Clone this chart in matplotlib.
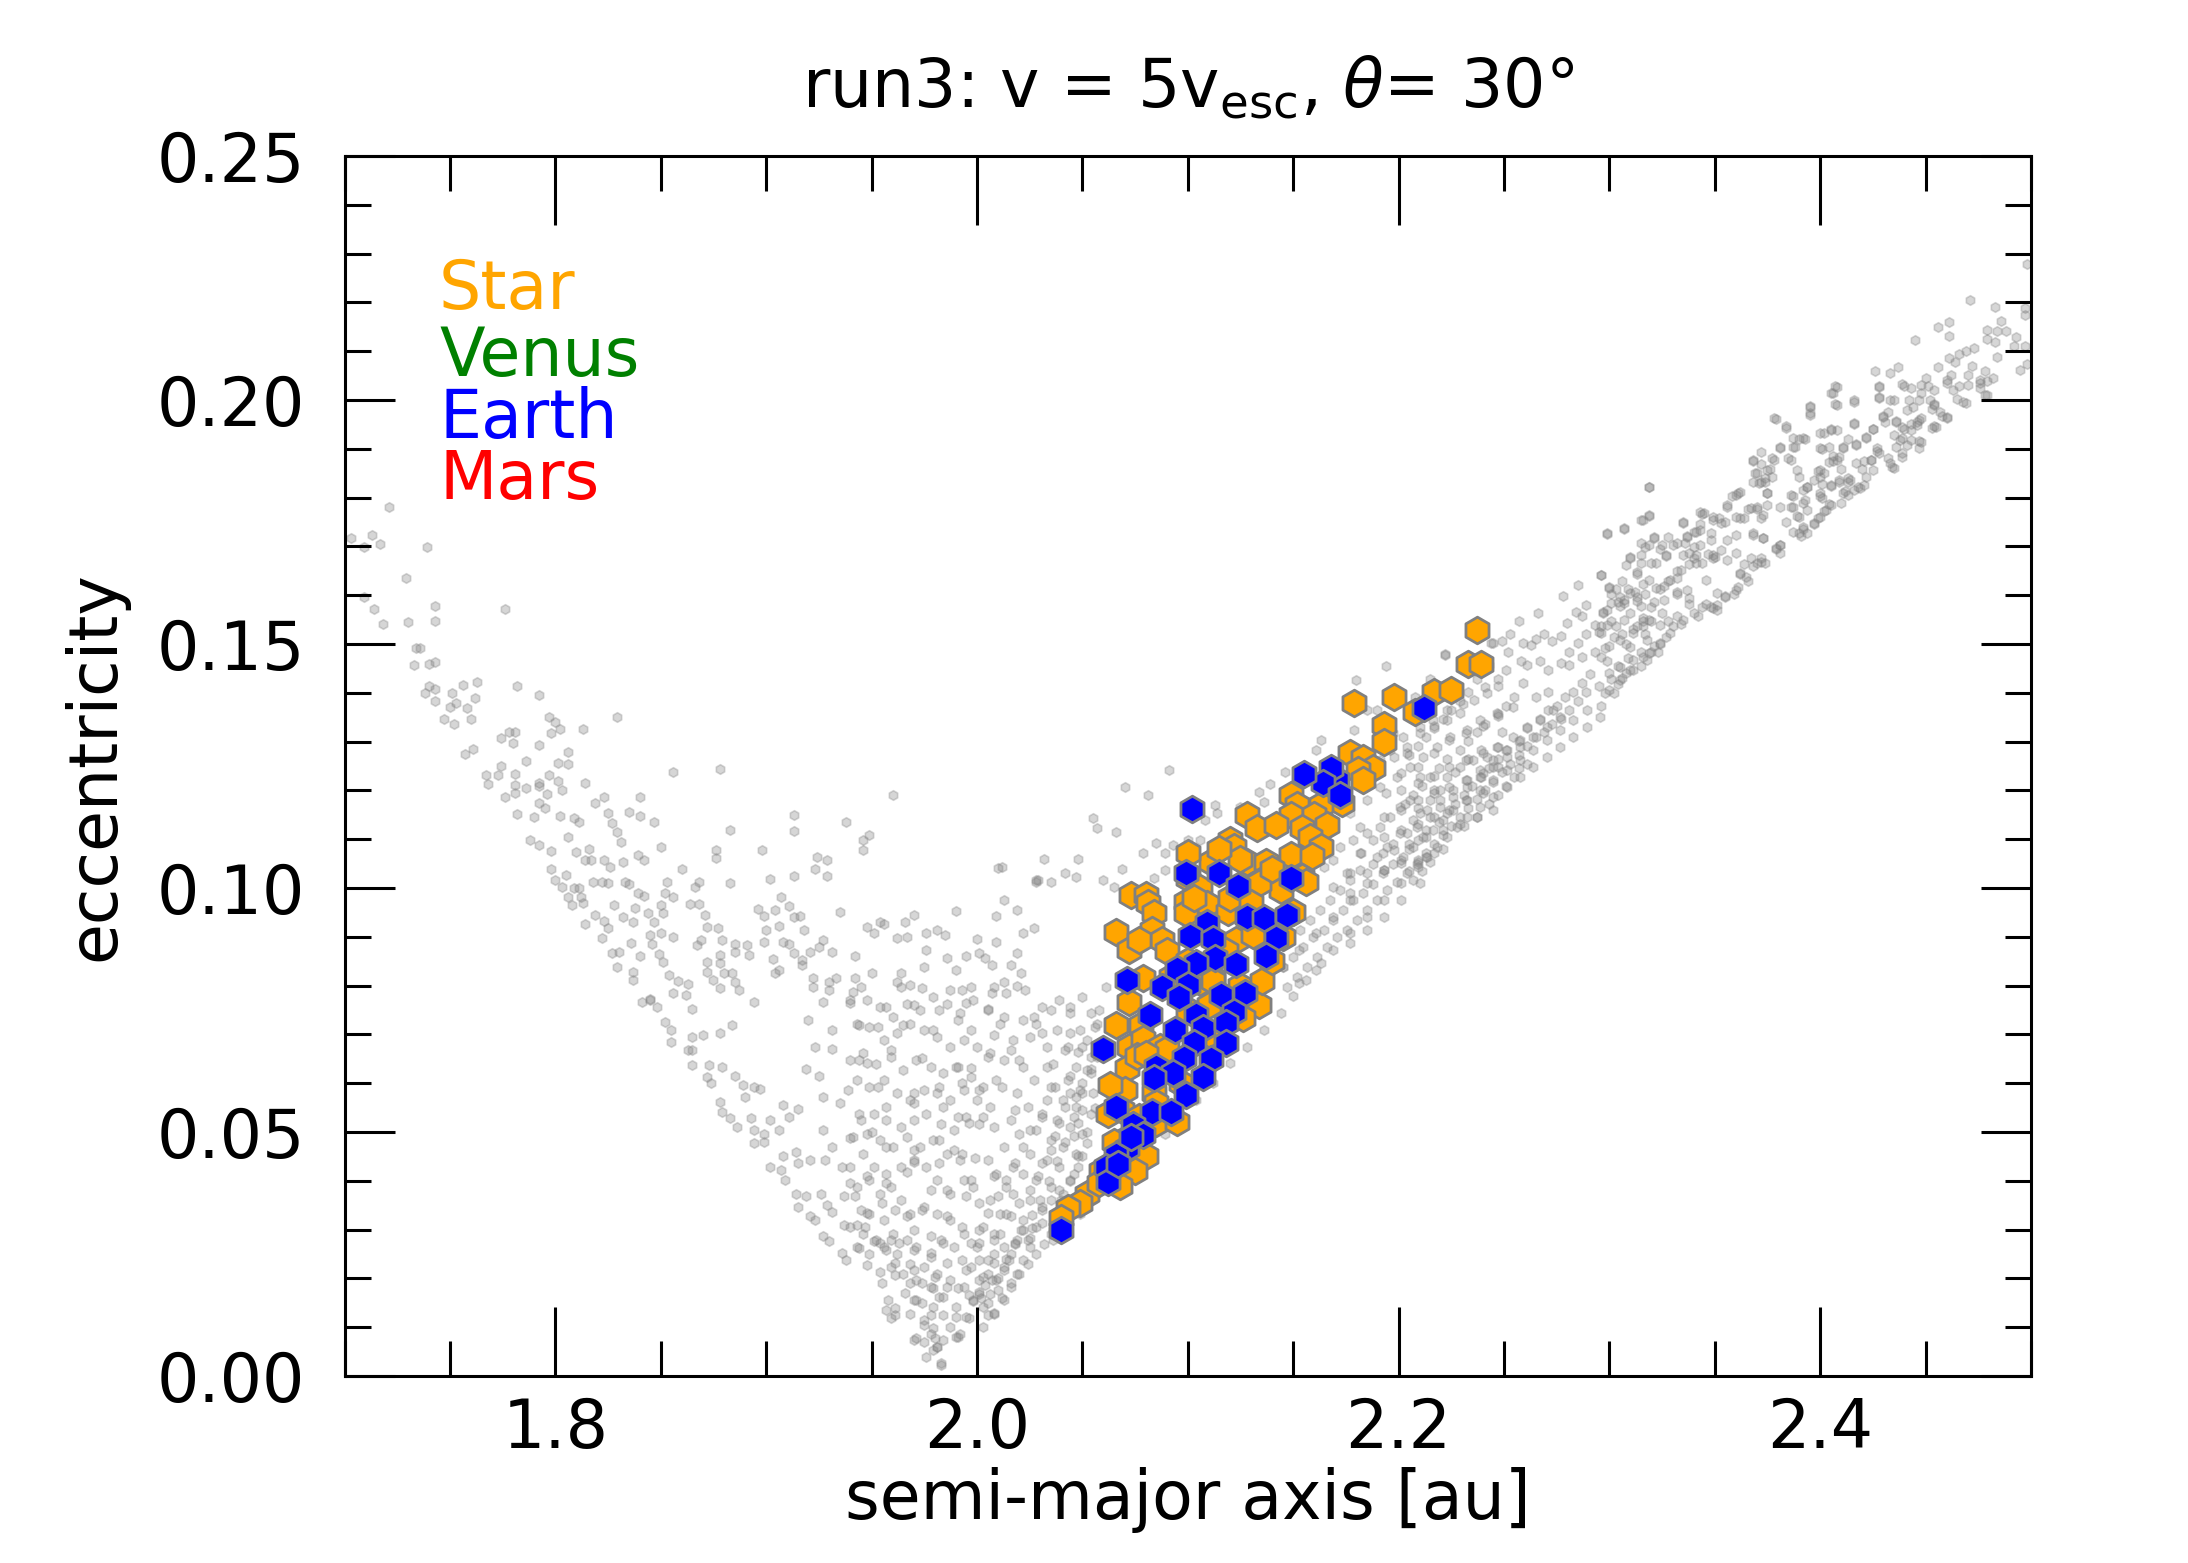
"""
Orbital elements of the fragments after the impact in run3.

Gray points are the whole debris population, the hexagons are the
fragments whose material comes from the star (orange) or Earth (blue).
"""

import numpy as np
import matplotlib
matplotlib.use("Agg")
import matplotlib.pyplot as plt
from matplotlib.ticker import MultipleLocator, FormatStrFormatter


OUT_PATH = "out.png"

# (semi-major axis [au], eccentricity)
gray_upper_left = [
    (1.721, 0.1781), (1.703, 0.1718), (1.713, 0.1723), (1.709, 0.1698), (1.717, 0.1705),
    (1.739, 0.1699), (1.729, 0.1635), (1.709, 0.1597), (1.714, 0.1571), (1.718, 0.1542),
    (1.730, 0.1546), (1.743, 0.1578), (1.743, 0.1548), (1.776, 0.1571), (1.734, 0.1492),
    (1.736, 0.1492), (1.733, 0.1458), (1.740, 0.1460), (1.743, 0.1464), (1.740, 0.1413),
    (1.743, 0.1407), (1.738, 0.1399), (1.751, 0.1400), (1.756, 0.1417), (1.763, 0.1423),
    (1.762, 0.1389), (1.753, 0.1380), (1.758, 0.1368), (1.750, 0.1371), (1.743, 0.1384),
    (1.747, 0.1346), (1.752, 0.1337), (1.760, 0.1346), (1.782, 0.1414), (1.792, 0.1396),
    (1.797, 0.1350), (1.800, 0.1341), (1.802, 0.1326), (1.798, 0.1318), (1.813, 0.1326),
    (1.829, 0.1351), (1.774, 0.1308), (1.778, 0.1320), (1.781, 0.1320), (1.780, 0.1298),
    (1.757, 0.1275), (1.761, 0.1284), (1.792, 0.1293), (1.806, 0.1279), (1.786, 0.1260),
    (1.774, 0.1250), (1.801, 0.1257), (1.806, 0.1254), (1.767, 0.1231), (1.773, 0.1231),
    (1.781, 0.1234), (1.768, 0.1214), (1.797, 0.1231), (1.801, 0.1220), (1.792, 0.1216),
    (1.814, 0.1216), (1.781, 0.1211), (1.786, 0.1204), (1.781, 0.1195), (1.792, 0.1209),
    (1.796, 0.1193), (1.803, 0.1201), (1.776, 0.1186), (1.856, 0.1238), (1.878, 0.1244),
    (1.792, 0.1174), (1.795, 0.1163), (1.782, 0.1152), (1.790, 0.1145), (1.802, 0.1148),
    (1.819, 0.1174), (1.823, 0.1186), (1.840, 0.1187), (1.825, 0.1153), (1.835, 0.1155),
    (1.840, 0.1148), (1.809, 0.1143), (1.811, 0.1136), (1.827, 0.1134), (1.847, 0.1136),
    (1.829, 0.1114), (1.831, 0.1094), (1.806, 0.1105), (1.788, 0.1098), (1.792, 0.1088),
    (1.798, 0.1075), (1.810, 0.1073), (1.816, 0.1081), (1.814, 0.1058), (1.817, 0.1058),
    (1.823, 0.1057), (1.826, 0.1044), (1.832, 0.1053), (1.839, 0.1068), (1.842, 0.1057),
    (1.850, 0.1085), (1.798, 0.1039), (1.805, 0.1027), (1.800, 0.1017), (1.803, 0.1002),
    (1.809, 0.1000), (1.811, 0.1000), (1.818, 0.1013), (1.822, 0.1013), (1.825, 0.1010),
    (1.833, 0.1013), (1.835, 0.1008), (1.806, 0.0982), (1.812, 0.0982), (1.808, 0.0965),
    (1.813, 0.0969), (1.814, 0.0926), (1.819, 0.0944), (1.823, 0.0933), (1.825, 0.0919),
    (1.822, 0.0897), (1.828, 0.0965), (1.832, 0.0941), (1.838, 0.0960), (1.844, 0.0948),
    (1.839, 0.0990), (1.842, 0.0984), (1.852, 0.0989), (1.850, 0.0965), (1.856, 0.0982),
    (1.851, 0.0948), (1.847, 0.0931), (1.837, 0.0931), (1.850, 0.0907), (1.856, 0.0900),
    (1.860, 0.1040), (1.853, 0.1013), (1.866, 0.1003), (1.868, 0.1013), (1.864, 0.0967),
    (1.868, 0.0967), (1.871, 0.0944), (1.872, 0.0920), (1.877, 0.0919), (1.869, 0.0893),
    (1.867, 0.0883), (1.879, 0.0893), (1.885, 0.0885), (1.891, 0.0883), (1.892, 0.0862),
    (1.885, 0.0869), (1.883, 0.1010), (1.876, 0.1077), (1.876, 0.1061), (1.883, 0.1119),
    (1.913, 0.1150), (1.913, 0.1117), (1.938, 0.1135), (1.946, 0.1098), (1.949, 0.1109),
    (1.946, 0.1077), (1.960, 0.1190), (1.898, 0.1077), (1.924, 0.1063), (1.929, 0.1058),
    (1.923, 0.1039), (1.929, 0.1025), (1.913, 0.1025), (1.902, 0.1019), (1.935, 0.0950),
    (1.990, 0.0952), (2.010, 0.1042), (2.013, 0.0975), (2.019, 0.0954), (2.009, 0.0943),
    (2.028, 0.1013), (1.896, 0.0958), (1.899, 0.0943), (1.904, 0.0955), (1.907, 0.0981),
    (1.911, 0.0963), (1.913, 0.0941), (1.916, 0.0943), (1.918, 0.0913), (1.927, 0.0893),
    (1.925, 0.0880), (1.921, 0.0869), (1.913, 0.0867), (1.911, 0.0886), (1.906, 0.0922),
    (1.900, 0.0914), (1.899, 0.0890), (1.908, 0.0890), (1.903, 0.0854), (1.904, 0.0825),
    (1.906, 0.0832), (1.917, 0.0852), (1.917, 0.0842), (1.922, 0.0815), (1.922, 0.0797),
    (1.931, 0.0869), (1.942, 0.0860), (1.942, 0.0816), (1.945, 0.0797), (1.950, 0.0825),
    (1.948, 0.0920), (1.951, 0.0907), (1.956, 0.0927), (1.954, 0.0931), (1.966, 0.0931),
    (1.970, 0.0944), (1.962, 0.0897), (1.967, 0.0899), (1.964, 0.0825), (1.962, 0.0808),
    (1.968, 0.0801), (1.975, 0.0839), (1.974, 0.0795), (1.976, 0.0907), (1.976, 0.0873),
    (1.981, 0.0914), (1.985, 0.0903), (1.986, 0.0856), (1.990, 0.0832), (1.993, 0.0791),
    (1.995, 0.0861), (2.001, 0.0866), (2.004, 0.0856), (2.007, 0.0842), (2.009, 0.0890),
    (2.016, 0.0842), (2.019, 0.0866), (2.021, 0.0825), (2.013, 0.0808), (2.022, 0.0908),
    (2.027, 0.0918), (2.029, 0.1017), (2.000, 0.0895), (2.007, 0.0784), (2.023, 0.0791),
    (2.019, 0.0799), (1.885, 0.0808), (1.887, 0.0791), (1.878, 0.0795), (1.884, 0.0826),
    (1.880, 0.0825), (1.875, 0.0811), (1.872, 0.0828), (1.858, 0.0810), (1.863, 0.0803),
    (1.856, 0.0784), (1.862, 0.0780), (1.845, 0.0773), (1.837, 0.0811), (1.837, 0.0828),
    (1.840, 0.0860), (1.851, 0.0848), (1.854, 0.0821), (1.849, 0.0865), (1.846, 0.0886),
    (1.845, 0.0903), (1.827, 0.0867), (1.830, 0.0869), (1.829, 0.0838), (1.836, 0.0887),
    (1.878, 0.0846), (1.878, 0.0862), (1.872, 0.0849), (1.933, 0.0816), (1.930, 0.0808),
    (1.930, 0.0791), (1.941, 0.0787),
]

gray_lower_mid = [
    (1.841, 0.0767), (1.845, 0.0771), (1.848, 0.0757), (1.865, 0.0753), (1.852, 0.0726),
    (1.855, 0.0709), (1.855, 0.0685), (1.865, 0.0695), (1.870, 0.0699), (1.878, 0.0702),
    (1.884, 0.0719), (1.894, 0.0767), (1.863, 0.0669), (1.865, 0.0669), (1.865, 0.0637),
    (1.873, 0.0637), (1.879, 0.0634), (1.885, 0.0614), (1.872, 0.0612), (1.874, 0.0601),
    (1.889, 0.0596), (1.894, 0.0593), (1.897, 0.0589), (1.890, 0.0572), (1.878, 0.0562),
    (1.879, 0.0542), (1.883, 0.0528), (1.893, 0.0528), (1.902, 0.0524), (1.894, 0.0504),
    (1.899, 0.0497), (1.886, 0.0511), (1.894, 0.0477), (1.899, 0.0480), (1.906, 0.0504),
    (1.908, 0.0555), (1.911, 0.0531), (1.915, 0.0548), (1.908, 0.0450), (1.914, 0.0460),
    (1.902, 0.0429), (1.907, 0.0422), (1.915, 0.0436), (1.909, 0.0402), (1.921, 0.0443),
    (1.928, 0.0443), (1.914, 0.0374), (1.919, 0.0368), (1.926, 0.0374), (1.929, 0.0350),
    (1.915, 0.0347), (1.921, 0.0327), (1.923, 0.0320), (1.931, 0.0337), (1.937, 0.0368),
    (1.942, 0.0368), (1.927, 0.0286), (1.930, 0.0276), (1.937, 0.0309), (1.943, 0.0309),
    (1.947, 0.0306), (1.936, 0.0252), (1.938, 0.0238), (1.944, 0.0262), (1.948, 0.0228),
    (1.954, 0.0214), (1.951, 0.0276), (1.954, 0.0272), (1.957, 0.0258), (1.959, 0.0279),
    (1.961, 0.0231), (1.961, 0.0207), (1.955, 0.0190), (1.958, 0.0156), (1.957, 0.0135),
    (1.961, 0.0139), (1.961, 0.0125), (1.959, 0.0118), (1.966, 0.0170), (1.970, 0.0156),
    (1.968, 0.0190), (1.974, 0.0190), (1.971, 0.0077), (1.975, 0.0070), (1.975, 0.0105),
    (1.979, 0.0098), (1.980, 0.0077), (1.981, 0.0060), (1.979, 0.0053), (1.983, 0.0023),
    (1.991, 0.0081), (1.990, 0.0122), (1.984, 0.0125), (1.978, 0.0125), (1.974, 0.0149),
    (1.982, 0.0163), (1.986, 0.0183), (1.979, 0.0180), (1.991, 0.0180), (1.996, 0.0118),
    (1.998, 0.0153), (1.996, 0.0166), (2.001, 0.0173), (2.002, 0.0160), (2.005, 0.0149),
    (2.005, 0.0125), (2.004, 0.0187), (2.007, 0.0197), (2.010, 0.0177), (2.008, 0.0231),
    (2.013, 0.0217), (2.015, 0.0238), (2.013, 0.0265), (2.018, 0.0272), (2.024, 0.0279),
    (2.021, 0.0299), (2.026, 0.0303), (2.025, 0.0282), (2.031, 0.0313), (2.031, 0.0340),
    (2.035, 0.0361), (2.039, 0.0381), (2.044, 0.0402), (2.048, 0.0429), (2.050, 0.0450),
    (2.052, 0.0477), (2.046, 0.0491), (2.048, 0.0518), (2.050, 0.0545), (2.047, 0.0572),
    (2.050, 0.0600), (2.052, 0.0627), (2.054, 0.0654), (2.048, 0.0665), (2.052, 0.0688),
    (2.056, 0.0716), (2.058, 0.0750), (2.061, 0.0798), (2.044, 0.0702), (2.042, 0.0668),
    (2.044, 0.0614), (2.044, 0.0580), (2.042, 0.0552), (2.039, 0.0518), (2.037, 0.0491),
    (2.035, 0.0463), (2.031, 0.0436), (2.029, 0.0409), (2.025, 0.0381), (2.020, 0.0354),
    (2.016, 0.0327), (2.037, 0.0593), (2.033, 0.0566), (2.031, 0.0531), (2.025, 0.0504),
    (2.022, 0.0470), (2.018, 0.0436), (2.014, 0.0402), (2.010, 0.0368), (2.005, 0.0334),
    (2.001, 0.0299), (1.997, 0.0272), (1.993, 0.0238), (2.033, 0.0634), (2.031, 0.0702),
    (2.027, 0.0736), (2.044, 0.0757), (2.035, 0.0750), (1.927, 0.0767), (1.940, 0.0764),
    (1.957, 0.0757), (1.970, 0.0760), (1.982, 0.0750), (1.995, 0.0764), (2.005, 0.0753),
    (2.013, 0.0736), (1.920, 0.0729), (1.931, 0.0709), (1.944, 0.0719), (1.953, 0.0716),
    (1.965, 0.0719), (1.979, 0.0709), (1.991, 0.0730), (1.997, 0.0709), (2.008, 0.0699),
    (1.923, 0.0675), (1.931, 0.0671), (1.944, 0.0648), (1.948, 0.0641), (1.959, 0.0668),
    (1.974, 0.0651), (1.991, 0.0634), (1.997, 0.0631), (2.005, 0.0654), (2.016, 0.0668),
    (2.020, 0.0648), (1.919, 0.0630), (1.925, 0.0614), (1.939, 0.0586), (1.953, 0.0593),
    (1.970, 0.0579), (1.982, 0.0593), (1.993, 0.0600), (2.001, 0.0586), (2.012, 0.0593),
    (1.927, 0.0572), (1.935, 0.0559), (1.944, 0.0538), (1.957, 0.0552), (1.970, 0.0559),
    (1.984, 0.0552), (1.991, 0.0531), (1.996, 0.0518), (2.003, 0.0531), (2.008, 0.0511),
    (2.018, 0.0545), (1.927, 0.0504), (1.940, 0.0487), (1.950, 0.0500), (1.957, 0.0470),
    (1.970, 0.0463), (1.982, 0.0484), (1.989, 0.0463), (1.993, 0.0456), (1.999, 0.0446),
    (2.005, 0.0443), (2.008, 0.0409), (1.997, 0.0402), (1.982, 0.0436), (1.970, 0.0439),
    (1.967, 0.0419), (1.978, 0.0381), (1.986, 0.0381), (1.995, 0.0368), (2.001, 0.0354),
    (1.955, 0.0354), (1.961, 0.0340), (1.967, 0.0327), (1.974, 0.0340), (1.986, 0.0327),
    (1.993, 0.0306), (1.970, 0.0299), (1.978, 0.0286), (1.984, 0.0272), (2.001, 0.0272),
    (2.008, 0.0292), (1.963, 0.0272), (1.970, 0.0258), (1.978, 0.0252), (1.986, 0.0231),
    (1.995, 0.0217), (2.001, 0.0238), (2.003, 0.0204), (1.970, 0.0217), (1.980, 0.0204),
    (1.948, 0.0334), (1.940, 0.0395), (1.948, 0.0409), (1.957, 0.0395), (1.936, 0.0429),
    (1.931, 0.0470),
    # lower edge of the right arm below the hexagons
    (2.003, 0.0100), (2.008, 0.0130), (2.012, 0.0160), (2.016, 0.0190), (2.020, 0.0210),
    (2.024, 0.0230), (2.028, 0.0250), (2.032, 0.0270), (2.036, 0.0300), (2.010, 0.0200),
    (2.014, 0.0240), (2.018, 0.0270), (2.022, 0.0300), (2.026, 0.0330), (2.030, 0.0360),
    (2.034, 0.0400), (2.038, 0.0440), (2.042, 0.0480), (2.046, 0.0530), (2.050, 0.0580),
    (2.054, 0.0630), (2.040, 0.0360), (2.044, 0.0400), (2.048, 0.0450), (2.052, 0.0500),
    (2.056, 0.0550),
]

# bottom of the V and the foot of the right arm
gray_v_bottom = [
    (2.050, 0.0777), (2.054, 0.0743), (2.049, 0.0709), (2.057, 0.0722), (2.050, 0.0674),
    (2.057, 0.0654), (2.047, 0.0633), (2.054, 0.0620), (2.043, 0.0606), (2.049, 0.0586),
    (2.055, 0.0579), (2.041, 0.0565), (2.047, 0.0551), (2.054, 0.0538), (2.038, 0.0524),
    (2.044, 0.0510), (2.050, 0.0497), (2.035, 0.0483), (2.041, 0.0470), (2.047, 0.0456),
    (2.033, 0.0442), (2.039, 0.0429), (2.046, 0.0415), (2.028, 0.0401), (2.035, 0.0387),
    (2.041, 0.0374), (2.025, 0.0360), (2.031, 0.0347), (2.038, 0.0333), (2.022, 0.0319),
    (2.028, 0.0306), (2.035, 0.0292), (2.019, 0.0278), (2.025, 0.0265), (2.016, 0.0251),
    (2.022, 0.0237), (2.013, 0.0224), (2.019, 0.0210), (2.009, 0.0196), (2.016, 0.0183),
    (2.006, 0.0169), (2.013, 0.0155), (2.003, 0.0142), (2.008, 0.0128), (2.043, 0.0674),
    (2.036, 0.0640), (2.035, 0.0592), (2.031, 0.0538), (2.028, 0.0504), (2.025, 0.0456),
    (2.022, 0.0415), (2.017, 0.0374), (2.014, 0.0333), (2.011, 0.0292), (2.008, 0.0251),
    (2.005, 0.0210), (2.001, 0.0169), (2.044, 0.0743), (2.038, 0.0709), (2.039, 0.0770),
    (2.031, 0.0756), (2.028, 0.0722), (2.025, 0.0695), (2.033, 0.0674), (2.022, 0.0633),
    (2.027, 0.0606), (2.019, 0.0579), (2.024, 0.0551), (2.016, 0.0524), (2.020, 0.0497),
    (2.013, 0.0470), (2.017, 0.0429), (2.009, 0.0415), (2.014, 0.0387), (2.006, 0.0360),
    (2.011, 0.0333), (2.003, 0.0306), (2.008, 0.0278), (2.000, 0.0265), (2.005, 0.0237),
    (1.997, 0.0224), (2.001, 0.0196), (1.994, 0.0183), (1.998, 0.0155), (1.990, 0.0142),
    (1.995, 0.0121), (1.987, 0.0101), (1.992, 0.0087), (1.984, 0.0073), (1.981, 0.0060),
    (1.978, 0.0087), (1.975, 0.0114), (1.979, 0.0142), (1.971, 0.0155), (1.968, 0.0128),
    (1.970, 0.0073), (1.976, 0.0039), (1.983, 0.0026), (1.990, 0.0080), (1.987, 0.0196),
    (1.984, 0.0162), (1.981, 0.0210), (1.978, 0.0183), (1.975, 0.0224), (1.971, 0.0196),
    (1.968, 0.0230), (1.965, 0.0210), (1.962, 0.0251), (1.959, 0.0224), (1.956, 0.0265),
    (1.952, 0.0278), (1.949, 0.0251), (1.946, 0.0292), (1.943, 0.0265), (1.940, 0.0306),
    (1.945, 0.0340), (1.949, 0.0333), (1.956, 0.0319), (1.960, 0.0292), (1.967, 0.0278),
    (1.971, 0.0265), (1.978, 0.0244), (1.983, 0.0278), (1.989, 0.0265), (1.994, 0.0292),
    (1.987, 0.0319), (1.981, 0.0333), (1.975, 0.0347), (1.968, 0.0333), (1.964, 0.0360),
    (1.959, 0.0387), (1.954, 0.0374), (1.949, 0.0401), (1.943, 0.0387), (1.940, 0.0429),
    (1.946, 0.0456), (1.951, 0.0429), (1.957, 0.0415), (1.964, 0.0429), (1.970, 0.0442),
    (1.976, 0.0429), (1.981, 0.0401), (1.987, 0.0374), (1.994, 0.0401), (1.998, 0.0387),
    (1.992, 0.0442), (1.986, 0.0456), (1.979, 0.0483), (1.973, 0.0470), (1.967, 0.0490),
    (1.960, 0.0470), (1.954, 0.0483), (1.948, 0.0497), (1.941, 0.0490), (1.945, 0.0524),
    (1.951, 0.0538), (1.957, 0.0524), (1.964, 0.0510), (1.970, 0.0524), (1.976, 0.0538),
    (1.983, 0.0517), (1.989, 0.0504), (1.995, 0.0531), (2.001, 0.0517), (2.006, 0.0551),
    (2.000, 0.0565), (1.994, 0.0586), (1.987, 0.0565), (1.981, 0.0579), (1.975, 0.0586),
    (1.968, 0.0565), (1.962, 0.0579), (1.956, 0.0606), (1.949, 0.0592), (1.943, 0.0606),
    (1.940, 0.0647), (1.946, 0.0661), (1.952, 0.0640), (1.959, 0.0654), (1.965, 0.0627),
    (1.971, 0.0647), (1.978, 0.0633), (1.984, 0.0620), (1.990, 0.0633), (1.997, 0.0613),
    (2.003, 0.0592), (2.009, 0.0606), (2.013, 0.0647), (2.006, 0.0661), (2.000, 0.0674),
    (1.994, 0.0688), (1.987, 0.0674), (1.981, 0.0695), (1.975, 0.0709), (1.968, 0.0722),
    (1.962, 0.0702), (1.956, 0.0688), (1.949, 0.0715), (1.943, 0.0722), (1.940, 0.0770),
    (1.948, 0.0770), (1.954, 0.0756), (1.960, 0.0736), (1.967, 0.0763), (1.973, 0.0750),
    (1.979, 0.0777), (1.986, 0.0763), (1.992, 0.0743), (1.998, 0.0770), (2.005, 0.0750),
    (2.011, 0.0722), (2.017, 0.0688), (2.022, 0.0729), (2.014, 0.0784), (2.008, 0.0797),
    (1.997, 0.0797), (1.987, 0.0791), (1.964, 0.0797),
]

gray_right_inner = [
    (2.036, 0.0279), (2.043, 0.0306), (2.049, 0.0333), (2.055, 0.0361), (2.063, 0.0395),
    (2.071, 0.0429), (2.079, 0.0463), (2.089, 0.0497), (2.096, 0.0532), (2.104, 0.0566),
    (2.112, 0.0600), (2.120, 0.0641), (2.128, 0.0675), (2.136, 0.0709), (2.144, 0.0743),
    (2.150, 0.0778), (2.156, 0.0811), (2.163, 0.0846), (2.169, 0.0873), (2.177, 0.0907),
    (2.185, 0.0941), (2.193, 0.0975), (2.201, 0.1010), (2.209, 0.1044), (2.145, 0.0839),
    (2.153, 0.0873), (2.161, 0.0907), (2.169, 0.0941), (2.177, 0.0975), (2.185, 0.1010),
    (2.193, 0.1037), (2.201, 0.1058), (2.213, 0.1064), (2.153, 0.0805), (2.161, 0.0832),
    (2.177, 0.0887), (2.185, 0.0914), (2.193, 0.0941), (2.201, 0.0975), (2.210, 0.1010),
    (2.198, 0.1269), (2.204, 0.1289), (2.210, 0.1317), (2.217, 0.1331), (2.223, 0.1344),
    (2.229, 0.1358), (2.236, 0.1385), (2.242, 0.1399), (2.247, 0.1413), (2.201, 0.1235),
    (2.209, 0.1249), (2.217, 0.1276), (2.224, 0.1303), (2.232, 0.1317), (2.240, 0.1331),
    (2.247, 0.1352), (2.194, 0.1194), (2.201, 0.1201), (2.209, 0.1215), (2.217, 0.1229),
    (2.224, 0.1249), (2.232, 0.1263), (2.240, 0.1276), (2.247, 0.1289), (2.193, 0.1146),
    (2.201, 0.1160), (2.209, 0.1180), (2.217, 0.1194), (2.224, 0.1208), (2.232, 0.1221),
    (2.240, 0.1235), (2.247, 0.1249), (2.185, 0.1112), (2.193, 0.1105), (2.201, 0.1119),
    (2.209, 0.1132), (2.217, 0.1146), (2.224, 0.1160), (2.232, 0.1180), (2.240, 0.1194),
    (2.182, 0.1071), (2.190, 0.1064), (2.198, 0.1078), (2.205, 0.1091), (2.213, 0.1105),
    (2.221, 0.1119), (2.229, 0.1132), (2.237, 0.1146), (2.245, 0.1160), (2.177, 0.1030),
    (2.185, 0.1030), (2.193, 0.1037), (2.201, 0.1051), (2.209, 0.1058), (2.217, 0.1071),
    (2.169, 0.1003), (2.177, 0.0989), (2.180, 0.1426), (2.194, 0.1455), (2.222, 0.1477),
    (2.244, 0.1503), (2.215, 0.1429), (2.208, 0.1392), (2.185, 0.1365), (2.190, 0.1365),
    (2.179, 0.1324), (2.163, 0.1303), (2.161, 0.1283), (2.146, 0.1238), (2.139, 0.1214),
    (2.134, 0.1197), (2.136, 0.1177), (2.125, 0.1166), (2.113, 0.1170), (2.114, 0.1153),
    (2.108, 0.1140), (2.091, 0.1242), (2.081, 0.1191), (2.070, 0.1208), (2.055, 0.1143),
    (2.057, 0.1122), (2.066, 0.1115), (2.048, 0.1060), (2.032, 0.1060), (2.042, 0.1030),
    (2.047, 0.1023), (2.028, 0.1016), (2.035, 0.1013), (2.060, 0.1016), (2.069, 0.1040),
    (2.065, 0.1002), (2.085, 0.1092), (2.079, 0.1071), (2.089, 0.1071), (2.093, 0.1088),
    (2.100, 0.1098), (2.106, 0.1098), (2.089, 0.1037), (2.084, 0.1020), (2.012, 0.1044),
]

# denser part of the right arm, between a = 2.14 and 2.30
gray_band_extra = [
    (2.1470, 0.0798), (2.1517, 0.0818), (2.1564, 0.0839), (2.1612, 0.0859), (2.1659, 0.0880),
    (2.1707, 0.0900), (2.1754, 0.0914), (2.1802, 0.0934), (2.1849, 0.0955), (2.1896, 0.0975),
    (2.1944, 0.0996), (2.1991, 0.1013), (2.2039, 0.1030), (2.2086, 0.1050), (2.2134, 0.1064),
    (2.2181, 0.1084), (2.2229, 0.1105), (2.2276, 0.1125), (2.2323, 0.1146), (2.2387, 0.1166),
    (2.2450, 0.1187), (2.2513, 0.1207), (2.2576, 0.1228), (2.2640, 0.1248), (2.2703, 0.1269),
    (2.2766, 0.1289), (2.2829, 0.1310), (2.2893, 0.1330), (2.2956, 0.1351),
    (2.1454, 0.0839), (2.1501, 0.0859), (2.1549, 0.0880), (2.1596, 0.0900), (2.1644, 0.0914),
    (2.1691, 0.0934), (2.1738, 0.0955), (2.1786, 0.0975), (2.1833, 0.0989), (2.1881, 0.1009),
    (2.1928, 0.1030), (2.1976, 0.1050), (2.2023, 0.1064), (2.2070, 0.1084), (2.2118, 0.1105),
    (2.2165, 0.1119), (2.2213, 0.1139), (2.2260, 0.1160), (2.2323, 0.1180), (2.2387, 0.1201),
    (2.2450, 0.1221), (2.2513, 0.1242), (2.2576, 0.1262), (2.2640, 0.1283), (2.2703, 0.1303),
    (2.2766, 0.1324), (2.2829, 0.1344), (2.2893, 0.1365),
    (2.1470, 0.0893), (2.1533, 0.0914), (2.1580, 0.0934), (2.1628, 0.0955), (2.1675, 0.0975),
    (2.1723, 0.0996), (2.1770, 0.1016), (2.1817, 0.1037), (2.1881, 0.1050), (2.1928, 0.1071),
    (2.1976, 0.1091), (2.2039, 0.1112), (2.2086, 0.1125), (2.2149, 0.1146), (2.2197, 0.1166),
    (2.2260, 0.1187), (2.2323, 0.1207), (2.2387, 0.1228), (2.2450, 0.1248), (2.2513, 0.1269),
    (2.2576, 0.1289), (2.2640, 0.1310), (2.2703, 0.1330), (2.2766, 0.1351),
    (2.1644, 0.1044), (2.1691, 0.1057), (2.1754, 0.1030), (2.1817, 0.1071), (2.1881, 0.1098),
    (2.1912, 0.1125), (2.1960, 0.1146), (2.2007, 0.1166), (2.2055, 0.1180), (2.2102, 0.1153),
    (2.2149, 0.1180), (2.2197, 0.1201), (2.2229, 0.1228), (2.2292, 0.1248), (2.2355, 0.1262),
    (2.2418, 0.1269), (2.2466, 0.1289), (2.2545, 0.1310), (2.2608, 0.1330), (2.2671, 0.1344),
    (2.2734, 0.1365), (2.1849, 0.1180), (2.1912, 0.1207), (2.1991, 0.1228), (2.2055, 0.1248),
    (2.2118, 0.1269), (2.2181, 0.1289), (2.2244, 0.1310), (2.2323, 0.1324), (2.2387, 0.1344),
    (2.2466, 0.1358), (2.2545, 0.1371), (2.1960, 0.1283), (2.2023, 0.1310), (2.2102, 0.1330),
    (2.2165, 0.1344), (2.2229, 0.1365), (2.2307, 0.1378), (2.1817, 0.1125), (2.1786, 0.1098),
    (2.1723, 0.1084), (2.1770, 0.1153), (2.1849, 0.1228), (2.1912, 0.1262), (2.1976, 0.1317),
    (2.2039, 0.1276), (2.2102, 0.1228),
    (2.1944, 0.1084), (2.2007, 0.1112), (2.2070, 0.1139), (2.2134, 0.1160), (2.2197, 0.1180),
    (2.2260, 0.1201), (2.2323, 0.1221), (2.2387, 0.1242), (2.2450, 0.1262), (2.2513, 0.1283),
    (2.2576, 0.1303),
]

# right arm between a = 2.30 and 2.48
gray_right_far = [
    (2.408, 0.2027), (2.406, 0.2014), (2.428, 0.2026), (2.428, 0.2007), (2.435, 0.2000),
    (2.440, 0.2029), (2.443, 0.2024), (2.448, 0.2031), (2.454, 0.2021), (2.460, 0.2034),
    (2.463, 0.2021), (2.465, 0.2003), (2.469, 0.1993), (2.470, 0.2031), (2.476, 0.2034),
    (2.479, 0.2038), (2.479, 0.2010), (2.476, 0.2024), (2.452, 0.2000), (2.447, 0.2000),
    (2.444, 0.1986), (2.441, 0.1980), (2.454, 0.1990), (2.457, 0.1976), (2.460, 0.1966),
    (2.455, 0.1945), (2.453, 0.1942), (2.447, 0.1959), (2.446, 0.1949), (2.443, 0.1939),
    (2.439, 0.1945), (2.436, 0.1956), (2.435, 0.1928), (2.438, 0.1918), (2.441, 0.1908),
    (2.447, 0.1915), (2.447, 0.1901), (2.439, 0.1884), (2.433, 0.1870), (2.435, 0.1860),
    (2.428, 0.1891), (2.427, 0.1901), (2.424, 0.1877), (2.421, 0.1874), (2.425, 0.1857),
    (2.422, 0.1843), (2.417, 0.1870), (2.417, 0.1908), (2.422, 0.1925), (2.425, 0.1940),
    (2.430, 0.1966), (2.432, 0.1976), (2.408, 0.1990), (2.416, 0.2000), (2.395, 0.1986),
    (2.395, 0.1969), (2.416, 0.1952), (2.413, 0.1921), (2.411, 0.1901), (2.409, 0.1884),
    (2.406, 0.1874), (2.405, 0.1939), (2.402, 0.1932), (2.400, 0.1901), (2.408, 0.1939),
    (2.384, 0.1942), (2.387, 0.1904), (2.390, 0.1921), (2.393, 0.1921), (2.381, 0.1901),
    (2.379, 0.1962), (2.372, 0.1894), (2.378, 0.1877), (2.386, 0.1877), (2.368, 0.1874),
    (2.369, 0.1850), (2.375, 0.1857), (2.377, 0.1843), (2.374, 0.1833), (2.371, 0.1829),
    (2.375, 0.1809), (2.389, 0.1857), (2.390, 0.1843), (2.400, 0.1857), (2.400, 0.1843),
    (2.405, 0.1826), (2.394, 0.1822), (2.392, 0.1816), (2.386, 0.1805), (2.400, 0.1809),
    (2.401, 0.1799), (2.405, 0.1785), (2.403, 0.1775), (2.400, 0.1761), (2.397, 0.1747),
    (2.394, 0.1727), (2.390, 0.1727), (2.387, 0.1730), (2.390, 0.1761), (2.387, 0.1781),
    (2.392, 0.1788), (2.394, 0.1775), (2.409, 0.1836), (2.413, 0.1833), (2.414, 0.1836),
    (2.416, 0.1816), (2.411, 0.1809), (2.413, 0.1805), (2.421, 0.1826), (2.419, 0.1819),
    (2.410, 0.1788), (2.392, 0.1740), (2.381, 0.1781), (2.375, 0.1785), (2.373, 0.1764),
    (2.370, 0.1781), (2.367, 0.1778), (2.364, 0.1758), (2.360, 0.1761), (2.362, 0.1812),
    (2.360, 0.1805), (2.356, 0.1785), (2.353, 0.1747), (2.355, 0.1751), (2.349, 0.1761),
    (2.343, 0.1771), (2.345, 0.1768), (2.341, 0.1730), (2.343, 0.1734), (2.335, 0.1747),
    (2.337, 0.1720), (2.340, 0.1699), (2.336, 0.1706), (2.332, 0.1706), (2.328, 0.1720),
    (2.325, 0.1703), (2.321, 0.1720), (2.319, 0.1703), (2.315, 0.1706), (2.319, 0.1764),
    (2.315, 0.1754), (2.307, 0.1737), (2.299, 0.1728), (2.319, 0.1822), (2.368, 0.1723),
    (2.373, 0.1717), (2.360, 0.1723), (2.356, 0.1713), (2.348, 0.1713), (2.349, 0.1682),
    (2.350, 0.1679), (2.353, 0.1693), (2.356, 0.1672), (2.360, 0.1686), (2.341, 0.1682),
    (2.338, 0.1686), (2.335, 0.1682), (2.327, 0.1682), (2.315, 0.1682), (2.310, 0.1679),
    (2.322, 0.1665), (2.313, 0.1648), (2.308, 0.1662), (2.296, 0.1641), (2.334, 0.1652),
    (2.332, 0.1635), (2.329, 0.1631), (2.326, 0.1618), (2.322, 0.1614), (2.319, 0.1631),
    (2.316, 0.1624), (2.312, 0.1607), (2.310, 0.1604), (2.307, 0.1590), (2.304, 0.1587),
    (2.305, 0.1577), (2.300, 0.1614), (2.299, 0.1570), (2.297, 0.1563), (2.341, 0.1665),
    (2.346, 0.1631), (2.351, 0.1604), (2.355, 0.1597), (2.360, 0.1611), (2.362, 0.1645),
    (2.365, 0.1638), (2.368, 0.1659), (2.372, 0.1669), (2.374, 0.1665), (2.379, 0.1696),
    (2.381, 0.1686), (2.381, 0.1703), (2.346, 0.1583), (2.349, 0.1573), (2.351, 0.1570),
    (2.332, 0.1607), (2.337, 0.1611), (2.338, 0.1583), (2.340, 0.1563), (2.335, 0.1549),
    (2.334, 0.1542), (2.330, 0.1536), (2.329, 0.1522), (2.327, 0.1515), (2.324, 0.1501),
    (2.321, 0.1495), (2.319, 0.1481), (2.318, 0.1467), (2.315, 0.1454), (2.311, 0.1447),
    (2.308, 0.1440), (2.306, 0.1430), (2.304, 0.1419), (2.300, 0.1406), (2.298, 0.1399),
    (2.296, 0.1372), (2.302, 0.1399), (2.305, 0.1426), (2.311, 0.1467), (2.316, 0.1474),
    (2.323, 0.1484), (2.318, 0.1508), (2.316, 0.1536), (2.316, 0.1553), (2.319, 0.1549),
    (2.313, 0.1536), (2.311, 0.1522), (2.308, 0.1501), (2.305, 0.1508), (2.302, 0.1515),
    (2.300, 0.1495), (2.298, 0.1491), (2.296, 0.1522), (2.296, 0.1474), (2.300, 0.1440),
    (2.304, 0.1454), (2.309, 0.1471), (2.325, 0.1563), (2.326, 0.1590), (2.321, 0.1587),
    (2.315, 0.1577), (2.310, 0.1563), (2.307, 0.1549), (2.303, 0.1536), (2.299, 0.1539),
    (2.296, 0.1536), (2.305, 0.1597), (2.313, 0.1597),
]

gray_right_outer = [
    (2.498, 0.2278), (2.471, 0.2205), (2.483, 0.2190), (2.497, 0.2188), (2.497, 0.2174),
    (2.486, 0.2162), (2.456, 0.2150), (2.461, 0.2159), (2.461, 0.2131), (2.445, 0.2122),
    (2.479, 0.2144), (2.484, 0.2142), (2.488, 0.2142), (2.493, 0.2129), (2.479, 0.2124),
    (2.483, 0.2119), (2.473, 0.2106), (2.469, 0.2101), (2.492, 0.2110), (2.497, 0.2110),
    (2.484, 0.2089), (2.495, 0.2062), (2.498, 0.2074), (2.466, 0.2095), (2.461, 0.2086),
    (2.456, 0.2067), (2.464, 0.2078), (2.472, 0.2069), (2.478, 0.2060), (2.482, 0.2046),
    (2.476, 0.2042), (2.470, 0.2051), (2.462, 0.2051), (2.460, 0.2040), (2.466, 0.2028),
    (2.478, 0.2010), (2.468, 0.1996), (2.450, 0.2046), (2.448, 0.2014), (2.451, 0.2028),
    (2.442, 0.2000), (2.439, 0.2032), (2.426, 0.2060), (2.433, 0.2055), (2.437, 0.2067),
    (2.428, 0.2028), (2.428, 0.2005), (2.433, 0.2000), (2.453, 0.1982), (2.454, 0.1991),
    (2.458, 0.1968), (2.460, 0.1964), (2.448, 0.1964), (2.446, 0.1955), (2.443, 0.1950),
    (2.454, 0.1946), (2.430, 0.1968), (2.431, 0.1955), (2.436, 0.1955), (2.440, 0.1941),
    (2.439, 0.1923), (2.443, 0.1918), (2.448, 0.1914), (2.436, 0.1904), (2.439, 0.1891),
    (2.432, 0.1882), (2.434, 0.1863), (2.425, 0.1941), (2.422, 0.1923), (2.417, 0.1909),
    (2.427, 0.1895), (2.424, 0.1877), (2.420, 0.1859), (2.418, 0.1822), (2.413, 0.1841),
    (2.412, 0.1813), (2.409, 0.1831), (2.416, 0.1996), (2.407, 0.2028), (2.405, 0.2014),
    (2.407, 0.1991), (2.395, 0.1987), (2.395, 0.1973), (2.416, 0.1950), (2.400, 0.1932),
    (2.405, 0.1941), (2.411, 0.1904), (2.404, 0.1904), (2.401, 0.1900), (2.406, 0.1886),
    (2.408, 0.1877), (2.404, 0.1872), (2.410, 0.1859), (2.402, 0.1850), (2.399, 0.1854),
    (2.397, 0.1836), (2.401, 0.1827), (2.405, 0.1824), (2.394, 0.1822), (2.400, 0.1804),
    (2.404, 0.1786), (2.402, 0.1772), (2.399, 0.1758), (2.397, 0.1745), (2.392, 0.1735),
    (2.391, 0.1721), (2.393, 0.1795), (2.387, 0.1804), (2.386, 0.1781), (2.389, 0.1763),
    (2.384, 0.1749), (2.381, 0.1703), (2.379, 0.1694), (2.378, 0.1964), (2.384, 0.1946),
    (2.387, 0.1923), (2.392, 0.1923), (2.388, 0.1904), (2.385, 0.1882), (2.381, 0.1904),
    (2.377, 0.1882), (2.368, 0.1877), (2.372, 0.1868), (2.376, 0.1859), (2.370, 0.1850),
    (2.374, 0.1841), (2.372, 0.1831), (2.368, 0.1831), (2.375, 0.1809), (2.370, 0.1777),
    (2.366, 0.1777), (2.372, 0.1758), (2.361, 0.1809), (2.358, 0.1804), (2.356, 0.1781),
    (2.362, 0.1758), (2.368, 0.1727), (2.373, 0.1717), (2.367, 0.1676), (2.372, 0.1676),
    (2.370, 0.1667), (2.364, 0.1663), (2.362, 0.1644), (2.366, 0.1630), (2.361, 0.1616),
    (2.359, 0.1603), (2.355, 0.1598), (2.351, 0.1580), (2.348, 0.1575), (2.352, 0.1758),
    (2.344, 0.1767), (2.349, 0.1754), (2.343, 0.1745), (2.348, 0.1727), (2.340, 0.1730),
    (2.335, 0.1749), (2.337, 0.1721), (2.343, 0.1703), (2.347, 0.1684), (2.349, 0.1676),
    (2.340, 0.1676), (2.338, 0.1663), (2.344, 0.1667), (2.330, 0.1703), (2.327, 0.1681),
    (2.332, 0.1649), (2.328, 0.1630), (2.321, 0.1717), (2.317, 0.1699), (2.324, 0.1694),
    (2.320, 0.1667), (2.315, 0.1667), (2.310, 0.1676), (2.313, 0.1644), (2.306, 0.1630),
    (2.309, 0.1612), (2.303, 0.1612), (2.301, 0.1584), (2.307, 0.1584), (2.313, 0.1589),
    (2.317, 0.1603), (2.320, 0.1575), (2.324, 0.1612), (2.332, 0.1603), (2.338, 0.1594),
    (2.344, 0.1575), (2.342, 0.1557), (2.332, 0.1557), (2.328, 0.1548), (2.324, 0.1539),
    (2.320, 0.1548), (2.316, 0.1548), (2.311, 0.1530), (2.317, 0.1520), (2.324, 0.1502),
    (2.320, 0.1484), (2.315, 0.1484), (2.310, 0.1493), (2.306, 0.1520), (2.301, 0.1548),
    (2.297, 0.1566), (2.295, 0.1525), (2.293, 0.1539), (2.289, 0.1520), (2.285, 0.1502),
    (2.281, 0.1484), (2.287, 0.1557), (2.284, 0.1566), (2.280, 0.1543), (2.277, 0.1516),
    (2.273, 0.1507), (2.269, 0.1520), (2.265, 0.1511), (2.263, 0.1497), (2.259, 0.1502),
    (2.257, 0.1548), (2.266, 0.1564), (2.278, 0.1598), (2.285, 0.1621), (2.296, 0.1641),
    (2.299, 0.1726), (2.307, 0.1735), (2.316, 0.1754), (2.319, 0.1763), (2.319, 0.1822),
    (2.301, 0.1603), (2.300, 0.1616), (2.289, 0.1580), (2.253, 0.1520), (2.252, 0.1484),
    (2.249, 0.1507), (2.245, 0.1502), (2.258, 0.1465), (2.261, 0.1456), (2.267, 0.1465),
    (2.271, 0.1447), (2.277, 0.1461), (2.281, 0.1456), (2.287, 0.1474), (2.293, 0.1484),
    (2.299, 0.1465), (2.305, 0.1452), (2.310, 0.1447), (2.301, 0.1429), (2.295, 0.1415),
    (2.289, 0.1401), (2.285, 0.1383), (2.281, 0.1365), (2.277, 0.1346), (2.273, 0.1337),
    (2.269, 0.1319), (2.265, 0.1310), (2.261, 0.1292), (2.257, 0.1273), (2.253, 0.1255),
    (2.249, 0.1237), (2.245, 0.1218), (2.241, 0.1200), (2.237, 0.1182), (2.233, 0.1163),
    (2.229, 0.1145), (2.225, 0.1127), (2.221, 0.1109), (2.217, 0.1090), (2.213, 0.1072),
    (2.209, 0.1054), (2.205, 0.1035), (2.291, 0.1438), (2.287, 0.1420), (2.283, 0.1401),
    (2.279, 0.1392), (2.275, 0.1374), (2.271, 0.1365), (2.267, 0.1346), (2.261, 0.1328),
    (2.257, 0.1301), (2.251, 0.1282), (2.247, 0.1264), (2.243, 0.1246), (2.239, 0.1227),
    (2.235, 0.1209), (2.231, 0.1191), (2.227, 0.1172), (2.223, 0.1154), (2.219, 0.1136),
    (2.213, 0.1118), (2.209, 0.1099), (2.205, 0.1081), (2.257, 0.1246), (2.261, 0.1255),
    (2.255, 0.1227), (2.251, 0.1209), (2.247, 0.1191), (2.243, 0.1172), (2.237, 0.1145),
    (2.231, 0.1127), (2.221, 0.1081), (2.215, 0.1054), (2.211, 0.1035), (2.207, 0.1017),
    (2.251, 0.1447), (2.247, 0.1429), (2.241, 0.1411), (2.237, 0.1429), (2.233, 0.1401),
    (2.229, 0.1383), (2.225, 0.1365), (2.221, 0.1346), (2.217, 0.1328), (2.213, 0.1310),
    (2.209, 0.1292), (2.205, 0.1273), (2.259, 0.1420), (2.255, 0.1392), (2.251, 0.1374),
    (2.247, 0.1356), (2.241, 0.1337), (2.237, 0.1319), (2.233, 0.1301), (2.229, 0.1282),
    (2.223, 0.1264), (2.219, 0.1246), (2.215, 0.1227), (2.211, 0.1209), (2.207, 0.1191),
    (2.203, 0.1172), (2.265, 0.1392), (2.271, 0.1401), (2.249, 0.1319), (2.239, 0.1282),
    (2.233, 0.1264), (2.227, 0.1237), (2.217, 0.1200), (2.209, 0.1163), (2.223, 0.1392),
    (2.243, 0.1456), (2.237, 0.1470), (2.222, 0.1479),
]

# hexagon markers: fragments that carry star material and Earth material
star_points = [
    (2.237, 0.1529), (2.233, 0.1460), (2.239, 0.1460), (2.217, 0.1402), (2.225, 0.1406),
    (2.198, 0.1391), (2.179, 0.1380), (2.193, 0.1334), (2.193, 0.1300), (2.208, 0.1361),
    (2.177, 0.1276), (2.183, 0.1266), (2.188, 0.1245), (2.181, 0.1242), (2.183, 0.1221),
    (2.173, 0.1174), (2.149, 0.1191), (2.152, 0.1170), (2.163, 0.1170), (2.149, 0.1150),
    (2.160, 0.1150), (2.166, 0.1129), (2.128, 0.1150), (2.133, 0.1122), (2.142, 0.1129),
    (2.154, 0.1122), (2.120, 0.1098), (2.158, 0.1105), (2.163, 0.1085), (2.122, 0.1085),
    (2.111, 0.1054), (2.128, 0.1054), (2.137, 0.1054), (2.149, 0.1068), (2.159, 0.1065),
    (2.135, 0.1016), (2.144, 0.0996), (2.154, 0.1023), (2.073, 0.0986), (2.080, 0.0986),
    (2.100, 0.1020), (2.106, 0.1000), (2.100, 0.1071), (2.081, 0.0969), (2.084, 0.0949),
    (2.099, 0.0972), (2.109, 0.0968), (2.134, 0.1010), (2.156, 0.1013), (2.066, 0.0910),
    (2.083, 0.0914), (2.088, 0.0893), (2.072, 0.0873), (2.077, 0.0893), (2.123, 0.0893),
    (2.131, 0.0904), (2.099, 0.0948), (2.119, 0.0951), (2.103, 0.0979), (2.079, 0.0815),
    (2.092, 0.0818), (2.106, 0.0808), (2.112, 0.0815), (2.134, 0.0760), (2.126, 0.0733),
    (2.072, 0.0767), (2.066, 0.0719), (2.078, 0.0719), (2.072, 0.0675), (2.079, 0.0691),
    (2.087, 0.0675), (2.071, 0.0631), (2.076, 0.0655), (2.070, 0.0586), (2.084, 0.0579),
    (2.063, 0.0596), (2.062, 0.0538), (2.069, 0.0545), (2.085, 0.0518), (2.077, 0.0531),
    (2.052, 0.0374), (2.049, 0.0354), (2.043, 0.0344), (2.040, 0.0323), (2.059, 0.0421),
    (2.058, 0.0395), (2.090, 0.0870), (2.100, 0.0850), (2.112, 0.0810), (2.118, 0.0870),
    (2.125, 0.0800), (2.135, 0.0810), (2.100, 0.0750), (2.110, 0.0760), (2.090, 0.0670),
    (2.097, 0.0600), (2.110, 0.0700), (2.080, 0.0660), (2.085, 0.0560), (2.095, 0.0520),
    (2.072, 0.0490), (2.080, 0.0450), (2.065, 0.0480), (2.075, 0.0420), (2.068, 0.0390),
    (2.140, 0.0850), (2.145, 0.0900), (2.120, 0.0980), (2.130, 0.0970), (2.150, 0.0950),
    (2.140, 0.1040), (2.125, 0.1060), (2.115, 0.1080),
]

earth_points = [
    (2.212, 0.1368), (2.171, 0.1221), (2.168, 0.1245), (2.164, 0.1215), (2.172, 0.1191),
    (2.155, 0.1234), (2.102, 0.1161), (2.099, 0.1030), (2.115, 0.1031), (2.124, 0.1004),
    (2.149, 0.1021), (2.128, 0.0941), (2.136, 0.0938), (2.147, 0.0945), (2.109, 0.0928),
    (2.101, 0.0902), (2.112, 0.0895), (2.142, 0.0897), (2.137, 0.0861), (2.113, 0.0856),
    (2.104, 0.0846), (2.095, 0.0835), (2.123, 0.0845), (2.071, 0.0811), (2.088, 0.0798),
    (2.100, 0.0801), (2.096, 0.0777), (2.116, 0.0780), (2.127, 0.0784), (2.082, 0.0740),
    (2.104, 0.0740), (2.122, 0.0747), (2.094, 0.0709), (2.107, 0.0713), (2.118, 0.0723),
    (2.060, 0.0670), (2.103, 0.0683), (2.118, 0.0682), (2.098, 0.0651), (2.111, 0.0649),
    (2.085, 0.0634), (2.093, 0.0620), (2.107, 0.0613), (2.084, 0.0610), (2.099, 0.0576),
    (2.066, 0.0552), (2.083, 0.0542), (2.092, 0.0542), (2.074, 0.0514), (2.079, 0.0494),
    (2.071, 0.0467), (2.066, 0.0453), (2.061, 0.0429), (2.062, 0.0398), (2.040, 0.0299),
    (2.067, 0.0435), (2.073, 0.0490),
]

# text legend in the upper left corner
legend_labels = ["Star", "Venus", "Earth", "Mars"]
legend_colors = ["orange", "green", "blue", "red"]

TITLE = r"run3: v = 5$\mathrm{v}_{\mathrm{esc}}$, $\theta$= 30°"


def as_xy(points):
    """Split a list of (a, e) tuples into two arrays."""
    arr = np.array(points)
    return arr[:, 0], arr[:, 1]


def plot_orbits(out_path=OUT_PATH):
    plt.rcParams["font.family"] = ["DejaVu Sans"]
    plt.rcParams["mathtext.fontset"] = "dejavusans"

    fig = plt.figure(figsize=(10.94, 7.815), dpi=200)
    ax = fig.add_axes([0.1575, 0.1196, 0.7707, 0.7806])

    gray = (gray_upper_left + gray_lower_mid + gray_v_bottom + gray_right_inner
            + gray_band_extra + gray_right_far + gray_right_outer)
    ga, ge = as_xy(gray)
    ax.scatter(ga, ge, marker="h", s=12.0, color="gray", edgecolors="gray",
               linewidths=0.6, alpha=0.32, zorder=1)

    sa, se = as_xy(star_points)
    ax.scatter(sa, se, marker="h", s=92, facecolor="orange", edgecolors="gray",
               linewidths=1.0, zorder=2)

    ea, ee = as_xy(earth_points)
    ax.scatter(ea, ee, marker="h", s=92, facecolor="blue", edgecolors="gray",
               linewidths=1.0, zorder=3)

    ax.set_xlim(1.7, 2.5)
    ax.set_ylim(0.0, 0.25)

    ax.xaxis.set_major_locator(MultipleLocator(0.2))
    ax.xaxis.set_minor_locator(MultipleLocator(0.05))
    ax.yaxis.set_major_locator(MultipleLocator(0.05))
    ax.yaxis.set_minor_locator(MultipleLocator(0.01))
    ax.xaxis.set_major_formatter(FormatStrFormatter("%.1f"))
    ax.yaxis.set_major_formatter(FormatStrFormatter("%.2f"))

    ax.tick_params(which="both", direction="in", top=True, right=True,
                   width=1.1, labelsize=24)
    ax.tick_params(axis="x", which="major", length=24.8, pad=7.2)
    ax.tick_params(axis="x", which="minor", length=12.6)
    ax.tick_params(axis="y", which="major", length=18, pad=14.2)
    ax.tick_params(axis="y", which="minor", length=9.4)
    for spine in ax.spines.values():
        spine.set_linewidth(1.1)

    ax.set_xlabel("semi-major axis [au]", fontsize=24)
    ax.xaxis.set_label_coords(0.5, -0.0746)
    ax.set_ylabel("eccentricity", fontsize=24)
    ax.yaxis.set_label_coords(-0.128, 0.5)
    ax.set_title(TITLE, fontsize=24, pad=17.6)

    baselines = [0.8746, 0.820, 0.769, 0.719]
    for label, color, y in zip(legend_labels, legend_colors, baselines):
        ax.text(0.056, y, label, color=color, fontsize=24, va="baseline",
                ha="left", transform=ax.transAxes)

    fig.savefig(out_path, dpi=200)
    plt.close(fig)
    print(f"Saved -> {out_path}")


def main():
    plot_orbits()


if __name__ == "__main__":
    main()
